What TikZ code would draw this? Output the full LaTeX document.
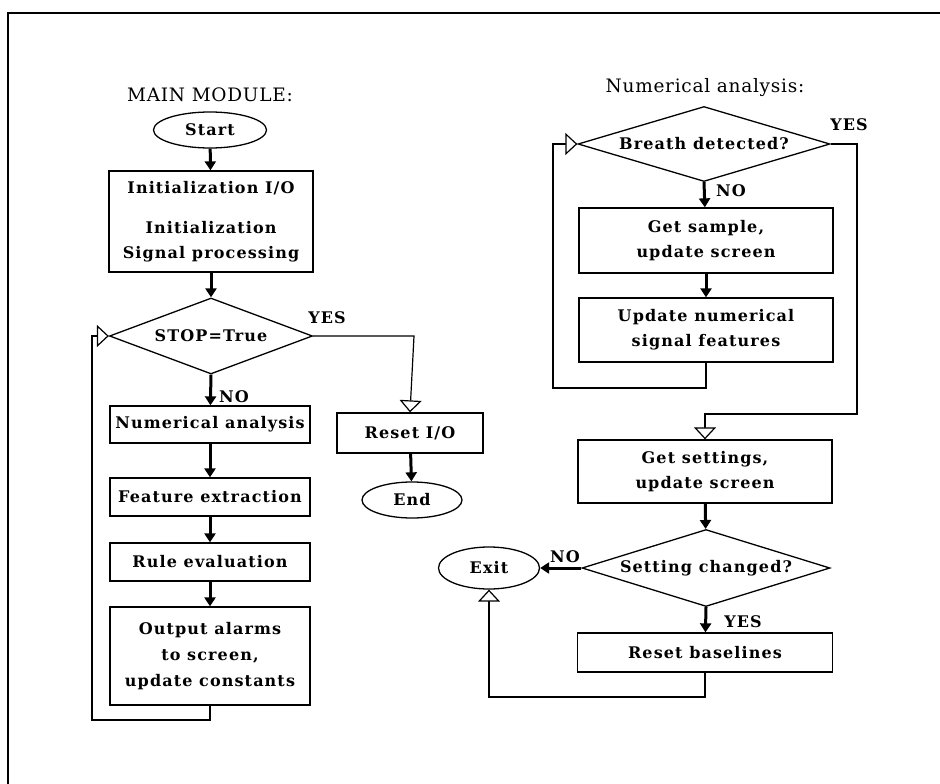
\documentclass[tikz,border=0pt]{standalone}
\usepackage{fontspec}
\setmainfont{DejaVu Serif}
\usetikzlibrary{arrows.meta,shapes.geometric}
\newcommand{\bxfont}[1]{\bfseries\fontsize{16}{#1}\selectfont\addfontfeature{LetterSpace=7}}
\newcommand{\dz}[1]{\makebox[0pt]{#1}}
\begin{document}
\begin{tikzpicture}[x=1pt,y=-1pt,
  box/.style={draw,line width=1.3pt,rectangle,inner sep=0pt,align=center,font=\bxfont{25}},
  ell/.style={draw,line width=1.3pt,ellipse,inner sep=0pt,font=\bxfont{18}},
  dia/.style={draw,line width=1.3pt,diamond,inner sep=0pt,font=\bxfont{18}},
  flow/.style={line width=3pt,-{Triangle[length=9pt,width=11pt]}},
  back/.style={line width=1.2pt,-{Triangle[open,length=12pt,width=22pt,fill=white]}},
  lbl/.style={font=\bxfont{18},inner sep=0pt},
  ttl/.style={font=\fontsize{18.5}{20}\selectfont\addfontfeature{LetterSpace=4},inner sep=0pt}]
\useasboundingbox (0,0) rectangle (940,784);
% frame
\draw[line width=2.5pt] (8,784) -- (8,13) -- (940,13);

% ---------- main module ----------
\node[ttl] (t1) at (210,95) {MAIN MODULE:};
\node[ell,minimum width=113pt,minimum height=36pt] (start) at (210,130) {Start};
\node[box,minimum width=204pt,minimum height=101pt] (init) at (211,221.5)
  {Initialization I/O\\[15pt]Initialization\\Signal processing};
\node[dia,minimum width=203pt,minimum height=76pt] (stop) at (211,336) {\dz{STOP=True}};
\node[box,minimum width=200pt,minimum height=37pt] (numan) at (210,424.5) {Numerical analysis};
\node[box,minimum width=200pt,minimum height=38pt] (feat) at (210,497) {Feature extraction};
\node[box,minimum width=200pt,minimum height=38pt] (rule) at (210,562) {Rule evaluation};
\node[box,minimum width=200pt,minimum height=98pt,font=\bxfont{26}] (out) at (210,656)
  {Output alarms\\to screen,\\update constants};
\node[box,minimum width=146pt,minimum height=40pt] (rio) at (410,433) {Reset I/O};
\node[ell,minimum width=100pt,minimum height=36pt] (end) at (412,500) {End};

\coordinate (l1) at (210,720);
\coordinate (l2) at (92,720);
\coordinate (y1) at (414,336);

\draw[flow] (start) -- (init);
\draw[flow] (init) -- (stop);
\draw[flow] (stop.south) -- (numan);
\draw[flow] (numan) -- (feat);
\draw[flow] (feat) -- (rule);
\draw[flow] (rule) -- (out);
\draw[back] (out.south) -- (l1) -- (l2) |- (stop.west);
\draw[back] (stop.east) -- (y1) -- (rio.north);
\draw[flow] (rio) -- (end);
\node[lbl] (no1) at (234,397) {NO};
\node[lbl] (yes1) at (327,318) {YES};

% ---------- numerical analysis ----------
\node[ttl] (t2) at (705,88) {Numerical analysis:};
\node[dia,minimum width=252pt,minimum height=75pt] (breath) at (704,144) {\dz{Breath detected?}};
\node[box,minimum width=254pt,minimum height=65pt] (sample) at (706,240.5) {Get sample,\\update screen};
\node[box,minimum width=254pt,minimum height=64pt] (upd) at (706,330) {Update numerical\\signal features};
\node[box,minimum width=254pt,minimum height=63pt] (sett) at (705,471.5) {Get settings,\\update screen};
\node[dia,minimum width=248pt,minimum height=77pt] (chg) at (706,568) {\dz{Setting changed?}};
\node[ell,minimum width=101pt,minimum height=42pt] (exit) at (489,568) {Exit};
\node[box,minimum width=255pt,minimum height=39pt] (base) at (705,652.5) {Reset baselines};

\coordinate (u1) at (706,388);
\coordinate (u2) at (553,388);
\coordinate (b1) at (857,144);
\coordinate (b2) at (857,414);
\coordinate (b3) at (705,414);
\coordinate (r1) at (705,697);
\coordinate (r2) at (489,697);

\draw[flow] (breath.south) -- (sample);
\draw[flow] (sample) -- (upd);
\draw[back] (upd.south) -- (u1) -- (u2) |- (breath.west);
\draw[back] (breath.east) -- (b1) -- (b2) -- (b3) -- (sett.north);
\draw[flow] (sett) -- (chg);
\draw[flow] (chg.west) -- (exit.east);
\draw[flow] (chg.south) -- (base);
\draw[back] (base.south) -- (r1) -- (r2) -- (exit.south);
\node[lbl] (yes2) at (849,125) {YES};
\node[lbl] (no2) at (731,191) {NO};
\node[lbl] (no3) at (565,557) {NO};
\node[lbl] (yes3) at (743,622) {YES};
\end{tikzpicture}
\end{document}
